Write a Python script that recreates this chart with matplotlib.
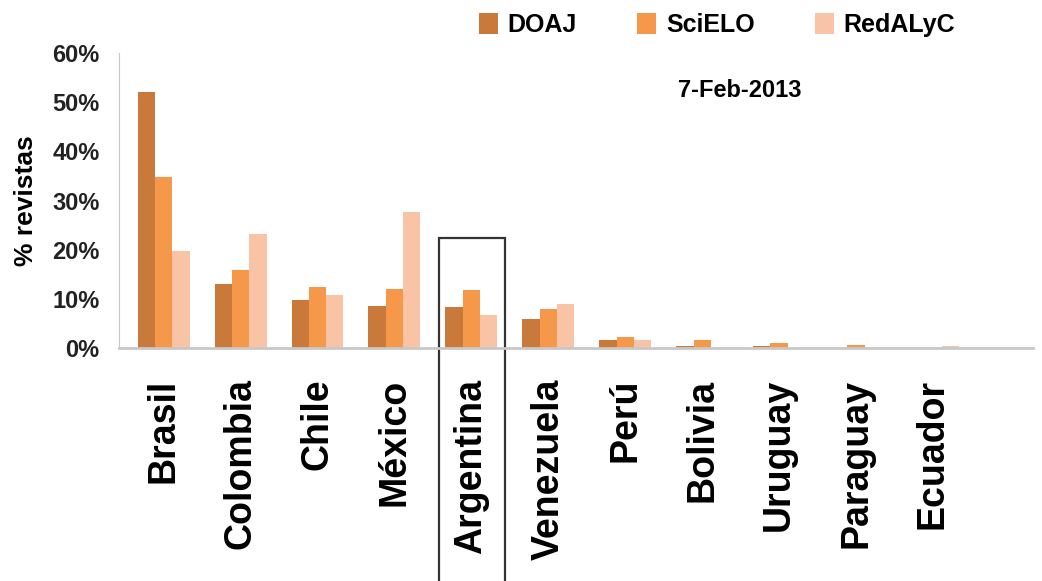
import matplotlib.pyplot as plt
import numpy as np
from matplotlib.patches import Rectangle
from matplotlib.ticker import PercentFormatter

paises = ['Brasil', 'Colombia', 'Chile', 'México', 'Argentina', 'Venezuela',
          'Perú', 'Bolivia', 'Uruguay', 'Paraguay', 'Ecuador']
doaj = [52.0, 13.1, 9.7, 8.5, 8.4, 5.8, 1.7, 0.5, 0.5, 0.0, 0.0]
scielo = [34.7, 15.9, 12.4, 11.9, 11.8, 7.9, 2.2, 1.7, 1.1, 0.6, 0.0]
redalyc = [19.8, 23.2, 10.7, 27.7, 6.7, 9.0, 1.7, 0.0, 0.0, 0.0, 0.5]
fecha = '7-Feb-2013'

arial = ['Liberation Sans', 'DejaVu Sans']

fig = plt.figure(figsize=(10.42, 5.81), dpi=100)
ax = fig.add_axes([119/1042, 1-348/581, (1033-119)/1042, (348-53)/581])

x = np.arange(len(paises))
w = 0.225
ax.bar(x - w, doaj, w, color='#C97A3A', label='DOAJ')
ax.bar(x, scielo, w, color='#F5984A', label='SciELO')
ax.bar(x + w, redalyc, w, color='#F9C3A5', label='RedALyC')

ax.set_xlim(-0.58, 11.30)
ax.set_ylim(0, 60)
ax.set_yticks(np.arange(0, 61, 10))
ax.yaxis.set_major_formatter(PercentFormatter(decimals=0))
ax.set_xticks(x)
ax.set_xticklabels(paises, rotation=90, ha='center', va='top',
                   fontsize=27, fontweight='bold', family=arial)
for t in ax.get_yticklabels():
    t.set_family(arial)
    t.set_fontweight('bold')
    t.set_fontsize(17)
ax.tick_params(axis='y', length=0, pad=14, colors='#222222')
ax.tick_params(axis='x', length=0, pad=22)
ax.set_ylabel('% revistas', fontsize=19, fontweight='bold', family=arial, labelpad=10)

for s in ['top', 'right']:
    ax.spines[s].set_visible(False)
ax.spines['left'].set_color('#C8C8C8')
ax.spines['bottom'].set_color('#C8C8C8')
ax.spines['bottom'].set_linewidth(2)

# recuadro Argentina
i = paises.index('Argentina')
ax.add_patch(Rectangle((i - 0.42, -70), 0.86, 70 + 22.3, fill=False,
                       edgecolor='#333333', lw=1.6, clip_on=False))

fig.legend(loc='center', bbox_to_anchor=(717/1042, 1-25/581), ncol=3,
           frameon=False, handlelength=0.76, handleheight=0.9,
           handletextpad=0.4, columnspacing=2.4,
           prop={'family': arial, 'weight': 'bold', 'size': 18})
fig.text(740/1042, 1-91/581, fecha, ha='center', va='center',
         fontsize=17, fontweight='bold', family=arial)

fig.savefig('out.png', dpi=100)
